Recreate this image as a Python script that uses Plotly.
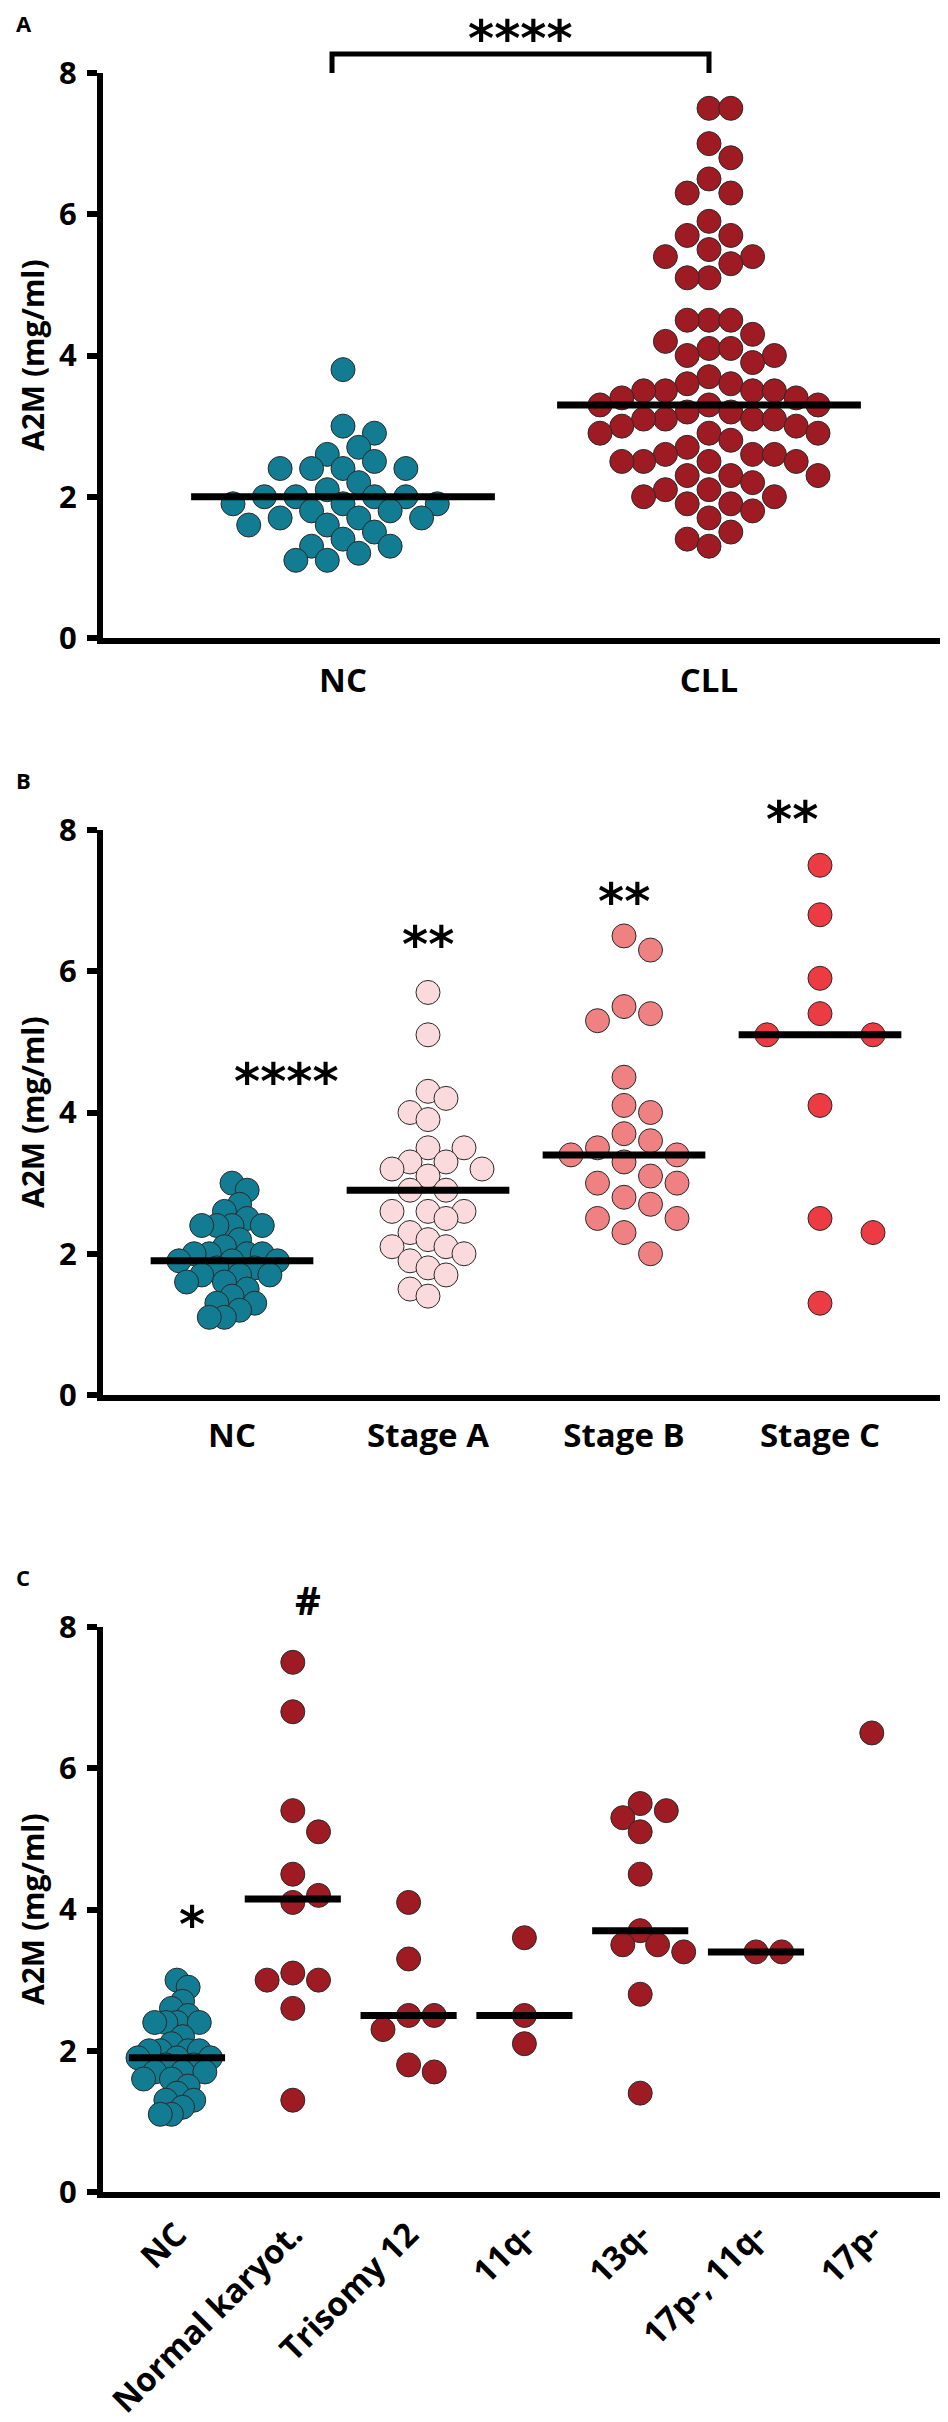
import plotly.graph_objects as go

# ---------------- data ----------------
# Panel A
cats_a = ["NC", "CLL"]
nc_a = [3.8, 3.0, 2.9, 2.7, 2.6, 2.5, 2.4, 2.4, 2.4, 2.4, 2.2, 2.1,
        2.0, 2.0, 2.0, 2.0, 1.9, 1.9, 1.9, 1.8, 1.8, 1.7, 1.7, 1.7,
        1.6, 1.6, 1.5, 1.4, 1.3, 1.3, 1.2, 1.1, 1.1]
cll_a = [7.5, 7.5, 7.0, 6.8, 6.5, 6.3, 6.3, 5.9, 5.7, 5.7, 5.5, 5.4, 5.4,
         5.3, 5.1, 5.1, 4.5, 4.5, 4.5, 4.3, 4.2, 4.1, 4.1, 4.0, 4.0, 3.9,
         3.7, 3.6, 3.6, 3.5, 3.5, 3.5, 3.5, 3.4, 3.4, 3.3, 3.3, 3.3,
         3.2, 3.2, 3.1, 3.1, 3.1, 3.1, 3.0, 3.0, 2.9, 2.9, 2.9, 2.8, 2.7,
         2.6, 2.6, 2.6, 2.5, 2.5, 2.5, 2.5, 2.3, 2.3, 2.3, 2.2, 2.1, 2.1,
         2.0, 2.0, 1.9, 1.9, 1.8, 1.7, 1.5, 1.4, 1.3]
medians_a = [2.0, 3.3]

# Panel B
cats_b = ["NC", "Stage A", "Stage B", "Stage C"]
nc_bc = [3.0, 2.9, 2.7, 2.6, 2.5, 2.4, 2.4, 2.4, 2.4, 2.2, 2.1,
         2.0, 2.0, 2.0, 2.0, 1.9, 1.9, 1.9, 1.8, 1.8, 1.7, 1.7, 1.7,
         1.6, 1.6, 1.5, 1.4, 1.3, 1.3, 1.2, 1.1, 1.1]
stage_a = [5.7, 5.1, 4.3, 4.2, 4.0, 3.9, 3.5, 3.5, 3.3, 3.3, 3.2, 3.2, 3.1,
           2.9, 2.9, 2.6, 2.6, 2.6, 2.5, 2.3, 2.2, 2.1, 2.1, 2.0, 1.9,
           1.8, 1.7, 1.5, 1.4]
stage_b = [6.5, 6.3, 5.5, 5.4, 5.3, 4.5, 4.1, 4.0, 3.7, 3.6, 3.5, 3.4, 3.4,
           3.3, 3.1, 3.0, 3.0, 2.8, 2.7, 2.5, 2.5, 2.3, 2.0]
stage_c = [7.5, 6.8, 5.9, 5.4, 5.1, 5.1, 4.1, 2.5, 2.3, 1.3]
medians_b = [1.9, 2.9, 3.4, 5.1]
stars_b = ["****", "**", "**", "**"]
stars_b_level = [4.4, 6.35, 6.95, 8.12]

# Panel C
cats_c = ["NC", "Normal karyot.", "Trisomy 12", "11q-", "13q-", "17p-, 11q-", "17p-"]
normal_k = [7.5, 6.8, 5.4, 5.1, 4.5, 4.2, 4.1, 3.1, 3.0, 3.0, 2.6, 1.3]
trisomy12 = [4.1, 3.3, 2.5, 2.5, 2.3, 1.8, 1.7]
del11q = [3.6, 2.5, 2.1]
del13q = [5.5, 5.4, 5.3, 5.1, 4.5, 3.7, 3.5, 3.5, 3.4, 2.8, 1.4]
del17p11q = [3.4, 3.4]
del17p = [6.5]
medians_c = [1.9, 4.15, 2.5, 2.5, 3.7, 3.4, None]
marks_c = ["*", "#", "", "", "", "", ""]
marks_c_level = [3.75, 8.25, None, None, None, None, None]

y_ticks = [0, 2, 4, 6, 8]
y_title = "A2M (mg/ml)"

# ---------------- styles ----------------
TEAL = "#127c92"
DARKRED = "#9e1b23"
PINK_A = "#fbdadd"
PINK_B = "#f08183"
RED_C = "#ec3b42"
EDGE = "#2a2a2a"

W_PX, H_PX = 948, 2422
D_COLL = 21.5  # minimal centre distance (px) between swarm points

panels = [
    dict(key="", top=65, bottom=630, left=95, right=946, first=335, spacing=366,
         cats=cats_a, letter="A", angle=0, standoff=8,
         groups=[(nc_a, TEAL, 20, 110), (cll_a, DARKRED, 21.8, 110)],
         medians=medians_a),
    dict(key="2", top=822, bottom=1387, left=95, right=946, first=224, spacing=196,
         cats=cats_b, letter="B", angle=0, standoff=6,
         groups=[(nc_bc, TEAL, 20, 53), (stage_a, PINK_A, 21, 54),
                 (stage_b, PINK_B, 26.5, 54), (stage_c, RED_C, 53, None)],
         medians=medians_b),
    dict(key="3", top=1619, bottom=2184, left=95, right=946, first=169, spacing=115.8,
         cats=cats_c, letter="C", angle=-45, standoff=4,
         groups=[(nc_bc, TEAL, 20, 39), (normal_k, DARKRED, 25.7, None),
                 (trisomy12, DARKRED, 12.8, None), (del11q, DARKRED, 12.8, None),
                 (del13q, DARKRED, 8.7, None), (del17p11q, DARKRED, 25.7, None),
                 (del17p, DARKRED, 12.8, None)],
         medians=medians_c),
]


def swarm(vals, step, wmax, px_per_unit):
    """Discrete beeswarm offsets in px (points placed from the top down)."""
    order = sorted(range(len(vals)), key=lambda i: -vals[i])
    placed = []
    offs = [0.0] * len(vals)
    cands = [0.0]
    for j in range(1, 60):
        cands += [j * step, -j * step]
    for i in order:
        y = vals[i] * px_per_unit
        chosen = 0.0
        for c in cands:
            if all((c - px) ** 2 + (y - py) ** 2 >= D_COLL ** 2 for px, py in placed):
                chosen = c
                break
        placed.append((chosen, y))
        offs[i] = chosen
    m = max(abs(o) for o in offs)
    if wmax and m > wmax:
        offs = [o * wmax / m for o in offs]
    return offs


fig = go.Figure()
annotations = []
shapes = []
font_b = dict(family="Open Sans", color="black", weight=700)

for p in panels:
    k = p["key"]
    xd = [p["left"] / W_PX, p["right"] / W_PX]
    yd = [(H_PX - p["bottom"]) / H_PX, (H_PX - p["top"]) / H_PX]
    x0 = -(p["first"] - p["left"]) / p["spacing"]
    x1 = x0 + (p["right"] - p["left"]) / p["spacing"]
    ppu = (p["bottom"] - p["top"]) / 8.0
    p["xd"], p["yd"], p["xr"] = xd, yd, (x0, x1)

    fig.layout["xaxis" + k] = dict(
        domain=xd, range=[x0, x1], anchor="y" + k, automargin=False,
        tickvals=list(range(len(p["cats"]))), ticktext=p["cats"],
        tickangle=p["angle"], ticks="", showline=True, linewidth=6, linecolor="black",
        showgrid=False, zeroline=False,
        tickfont=dict(size=33, **font_b),
        ticklabelstandoff=p["standoff"],
    )
    fig.layout["yaxis" + k] = dict(
        domain=yd, range=[0, 8], anchor="x" + k, tickvals=y_ticks, automargin=False,
        ticks="outside", ticklen=10, tickwidth=6, tickcolor="black",
        showline=True, linewidth=6, linecolor="black",
        showgrid=False, zeroline=False,
        tickfont=dict(size=31, **font_b), ticklabelstandoff=4,
    )

    for gi, (vals, col, step, wmax) in enumerate(p["groups"]):
        offs = swarm(vals, step, wmax, ppu)
        fig.add_trace(go.Scatter(
            x=[gi + o / p["spacing"] for o in offs], y=vals, mode="markers",
            marker=dict(size=24, color=col, line=dict(color=EDGE, width=1)),
            xaxis="x" + k, yaxis="y" + k, showlegend=False, hoverinfo="skip",
            cliponaxis=False,
        ))
    for gi, m in enumerate(p["medians"]):
        if m is None:
            continue
        fig.add_trace(go.Scatter(
            x=[gi - 0.415, gi + 0.415], y=[m, m], mode="lines",
            line=dict(color="black", width=7),
            xaxis="x" + k, yaxis="y" + k, showlegend=False, hoverinfo="skip",
            cliponaxis=False,
        ))

    # y-axis title and panel letter
    annotations.append(dict(
        text=y_title, x=2 / W_PX, y=(yd[0] + yd[1]) / 2, xref="paper", yref="paper",
        textangle=-90, showarrow=False, xanchor="left", yanchor="middle",
        font=dict(size=30, **font_b)))
    annotations.append(dict(
        text=p["letter"], x=6 / W_PX, y=(H_PX - p["top"] + 50) / H_PX,
        xref="paper", yref="paper", showarrow=False, xanchor="left", yanchor="middle",
        font=dict(size=22, **font_b)))


def xpaper(p, xv):
    x0, x1 = p["xr"]
    return p["xd"][0] + (xv - x0) / (x1 - x0) * (p["xd"][1] - p["xd"][0])


def ypaper(p, yv):
    return p["yd"][0] + yv / 8.0 * (p["yd"][1] - p["yd"][0])


star_font = dict(family="DejaVu Sans", size=50, color="black", weight=700)
STAR_SHIFT = 2

# Panel A bracket and stars
pa = panels[0]
bx0, bx1 = xpaper(pa, -0.03), xpaper(pa, 1.0)
by0, by1 = ypaper(pa, 8.0), ypaper(pa, 8.0) + 19 / H_PX
shapes.append(dict(type="path", xref="paper", yref="paper",
                   path=f"M {bx0} {by0} L {bx0} {by1} L {bx1} {by1} L {bx1} {by0}",
                   line=dict(color="black", width=5)))
annotations.append(dict(text="****", x=(bx0 + bx1) / 2, y=1.0,
                        xref="paper", yref="paper", showarrow=False,
                        yanchor="top", font=star_font))

# Panel B stars
pb = panels[1]
for i, (s, lv) in enumerate(zip(stars_b, stars_b_level)):
    annotations.append(dict(text=s, x=xpaper(pb, i), y=ypaper(pb, lv),
                            xref="paper", yref="paper", showarrow=False, yshift=STAR_SHIFT,
                            yanchor="middle", font=star_font))

# Panel C marks
pc = panels[2]
for i, (s, lv) in enumerate(zip(marks_c, marks_c_level)):
    if not s:
        continue
    f = star_font if s == "*" else dict(family="Open Sans", size=40, color="black", weight=700)
    annotations.append(dict(text=s, x=xpaper(pc, i), y=ypaper(pc, lv),
                            xref="paper", yref="paper", showarrow=False, yanchor="middle",
                            yshift=STAR_SHIFT if s == "*" else 10, font=f))

fig.update_layout(
    width=W_PX, height=H_PX, margin=dict(l=0, r=0, t=0, b=0, autoexpand=False),
    paper_bgcolor="white", plot_bgcolor="white",
    annotations=annotations, shapes=shapes,
)

fig.write_html("out.html")
